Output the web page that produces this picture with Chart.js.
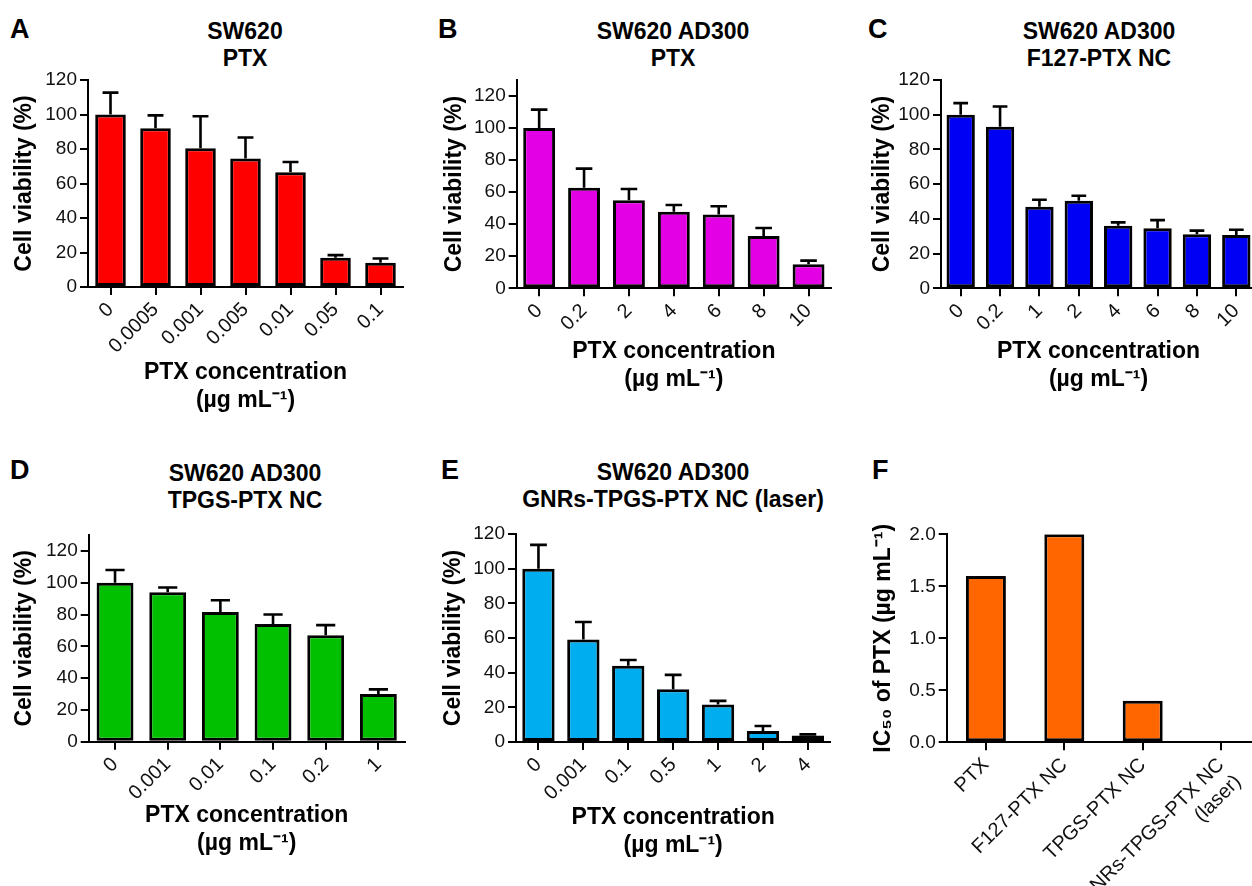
<!DOCTYPE html>
<html>
<head>
<meta charset="utf-8">
<script src="https://cdn.jsdelivr.net/npm/chart.js@4.4.1/dist/chart.umd.min.js"></script>
<style>
html, body { margin: 0; padding: 0; background: #fff; overflow: hidden; width: 1252px; height: 886px; }
body { position: relative; font-family: "Liberation Sans", Arial, sans-serif; }
canvas { position: absolute; }
.lbl { position: absolute; font-weight: bold; font-size: 27px; line-height: 27px; color: #000; }
.ttl { position: absolute; width: 400px; text-align: center; font-weight: bold; font-size: 23px; line-height: 27px; color: #000; white-space: nowrap; }
</style>
</head>
<body>
<div class="lbl" style="left:10px;top:16px">A</div>
<div class="lbl" style="left:438px;top:16px">B</div>
<div class="lbl" style="left:868px;top:16px">C</div>
<div class="lbl" style="left:10px;top:457px">D</div>
<div class="lbl" style="left:441px;top:457px">E</div>
<div class="lbl" style="left:872px;top:457px">F</div>

<div class="ttl" style="left:45px;top:18px">SW620<br>PTX</div>
<div class="ttl" style="left:473px;top:18px">SW620 AD300<br>PTX</div>
<div class="ttl" style="left:899px;top:18px">SW620 AD300<br>F127-PTX NC</div>
<div class="ttl" style="left:45px;top:460px">SW620 AD300<br>TPGS-PTX NC</div>
<div class="ttl" style="left:473px;top:459px">SW620 AD300<br>GNRs-TPGS-PTX NC (laser)</div>

<canvas id="chartA" width="420" height="440" style="left:0;top:0"></canvas>
<canvas id="chartB" width="420" height="440" style="left:420px;top:0"></canvas>
<canvas id="chartC" width="420" height="440" style="left:840px;top:0"></canvas>
<canvas id="chartD" width="420" height="446" style="left:0;top:440px"></canvas>
<canvas id="chartE" width="420" height="446" style="left:420px;top:440px"></canvas>
<canvas id="chartF" width="425" height="446" style="left:840px;top:440px"></canvas>

<script>
// panel A: SW620, PTX
const aLabels = ['0', '0.0005', '0.001', '0.005', '0.01', '0.05', '0.1'];
const aMeans = [100, 92, 80.5, 74.5, 66.5, 17, 14];
const aErrs = [12.7, 7.5, 18.5, 12.2, 6, 1.5, 2.5];

// panel B: SW620 AD300, PTX
const bLabels = ['0', '0.2', '2', '4', '6', '8', '10'];
const bMeans = [100, 62.7, 55, 47.7, 46, 32.6, 15];
const bErrs = [11.5, 12, 7, 4.3, 5.2, 5, 2.3];

// panel C: SW620 AD300, F127-PTX NC
const cLabels = ['0', '0.2', '1', '2', '4', '6', '8', '10'];
const cMeans = [100, 93, 47, 50.5, 36, 34.6, 31.2, 30.7];
const cErrs = [6.7, 11.7, 4, 2.8, 2, 4.7, 2, 3];

// panel D: SW620 AD300, TPGS-PTX NC
const dLabels = ['0', '0.001', '0.01', '0.1', '0.2', '1'];
const dMeans = [100, 94, 81.5, 74, 67, 30];
const dErrs = [8, 3, 7.5, 6, 6.3, 2.9];

// panel E: SW620 AD300, GNRs-TPGS-PTX NC (laser)
const eLabels = ['0', '0.001', '0.1', '0.5', '1', '2', '4'];
const eMeans = [100, 59.2, 44, 30.4, 21.7, 6.3, 3.8];
const eErrs = [13.7, 10, 3.3, 8.3, 2, 2.9, 0.6];

// panel F: IC50 summary
const fLabels = ['PTX', 'F127-PTX NC', 'TPGS-PTX NC', ['GNRs-TPGS-PTX NC', '(laser)']];
const fValues = [1.6, 2.0, 0.4, 0.01];

const concTitle = ['PTX concentration', '(µg mL⁻¹)'];

Chart.defaults.font.family = '"Liberation Sans", Arial, sans-serif';
Chart.defaults.font.size = 19;
Chart.defaults.color = '#111';

// one-sided (upper) error bars
const errorBars = {
    id: 'errorBars',
    afterDatasetsDraw(chart) {
        const ctx = chart.ctx;
        const ys = chart.scales.y;
        chart.data.datasets.forEach((ds, i) => {
            if (!ds.errs) return;
            chart.getDatasetMeta(i).data.forEach((bar, j) => {
                const top = ys.getPixelForValue(ds.data[j] + ds.errs[j]);
                const half = bar.width * 0.26;
                ctx.save();
                ctx.strokeStyle = '#000';
                ctx.lineWidth = 2.6;
                ctx.beginPath();
                ctx.moveTo(bar.x, bar.y);
                ctx.lineTo(bar.x, top);
                ctx.moveTo(bar.x - half, top);
                ctx.lineTo(bar.x + half, top);
                ctx.stroke();
                ctx.restore();
            });
        });
    }
};

function barPanel(id, labels, values, errs, color, o) {
    const ctx = document.getElementById(id).getContext('2d');
    return new Chart(ctx, {
        type: 'bar',
        data: {
            labels: labels,
            datasets: [{
                data: values,
                errs: errs,
                backgroundColor: color,
                borderColor: '#000',
                borderWidth: 3,
                borderSkipped: false,
                barPercentage: o.bar,
                categoryPercentage: 1
            }]
        },
        options: {
            responsive: false,
            animation: false,
            layout: { padding: { top: o.top, right: o.right, left: 0, bottom: 0 } },
            plugins: { legend: { display: false }, tooltip: { enabled: false } },
            scales: {
                x: {
                    grid: { offset: false, drawOnChartArea: false, color: '#000', lineWidth: 2, tickLength: 8 },
                    border: { color: '#000', width: 2 },
                    ticks: { autoSkip: false, minRotation: 45, maxRotation: 45, padding: 3, font: { size: 20 } },
                    title: {
                        display: !!o.xTitle,
                        text: o.xTitle,
                        color: '#000',
                        font: { size: 23, weight: 'bold' },
                        padding: { top: 0, bottom: o.xPad || 0 }
                    },
                    afterFit: s => { s.height = o.xH; }
                },
                y: {
                    min: 0,
                    max: o.max,
                    grid: { drawOnChartArea: false, color: '#000', lineWidth: 2, tickLength: 8 },
                    border: { color: '#000', width: 2 },
                    ticks: {
                        stepSize: o.step,
                        includeBounds: false,
                        padding: 3,
                        font: { size: 19 },
                        callback: o.fmt || (v => v)
                    },
                    title: {
                        display: true,
                        text: o.yTitle,
                        color: '#000',
                        font: { size: 23, weight: 'bold' },
                        padding: { top: o.yPad, bottom: 0 }
                    },
                    afterFit: s => { s.width = o.yW; }
                }
            }
        },
        plugins: [errorBars]
    });
}

barPanel('chartA', aLabels, aMeans, aErrs, '#ff0000',
    { top: 80, right: 17, xH: 153, yW: 88, max: 120, step: 20, bar: 0.68,
      xTitle: concTitle, xPad: 26, yTitle: 'Cell viability (%)', yPad: 11 });

barPanel('chartB', bLabels, bMeans, bErrs, '#e400e4',
    { top: 80, right: 9, xH: 151.7, yW: 96.7, max: 130, step: 20, bar: 0.71,
      xTitle: concTitle, xPad: 47, yTitle: 'Cell viability (%)', yPad: 21 });

barPanel('chartC', cLabels, cMeans, cErrs, '#0000f5',
    { top: 80, right: 4, xH: 151.7, yW: 101, max: 120, step: 20, bar: 0.72,
      xTitle: concTitle, xPad: 47, yTitle: 'Cell viability (%)', yPad: 28.5 });

barPanel('chartD', dLabels, dMeans, dErrs, '#00c000',
    { top: 95, right: 15.3, xH: 144.3, yW: 88.7, max: 130, step: 20, bar: 0.7,
      xTitle: concTitle, xPad: 29, yTitle: 'Cell viability (%)', yPad: 11 });

barPanel('chartE', eLabels, eMeans, eErrs, '#00aeef',
    { top: 94, right: 9.7, xH: 144, yW: 96, max: 120, step: 20, bar: 0.72,
      xTitle: concTitle, xPad: 27, yTitle: 'Cell viability (%)', yPad: 19.5 });

barPanel('chartF', fLabels, fValues, null, '#ff6600',
    { top: 94.3, right: 4.7, xH: 143.7, yW: 106.7, max: 2.0, step: 0.5, bar: 0.51,
      xTitle: null, yTitle: 'IC₅₀ of PTX (µg mL⁻¹)', yPad: 29.5, fmt: v => v.toFixed(1) });
</script>
</body>
</html>
